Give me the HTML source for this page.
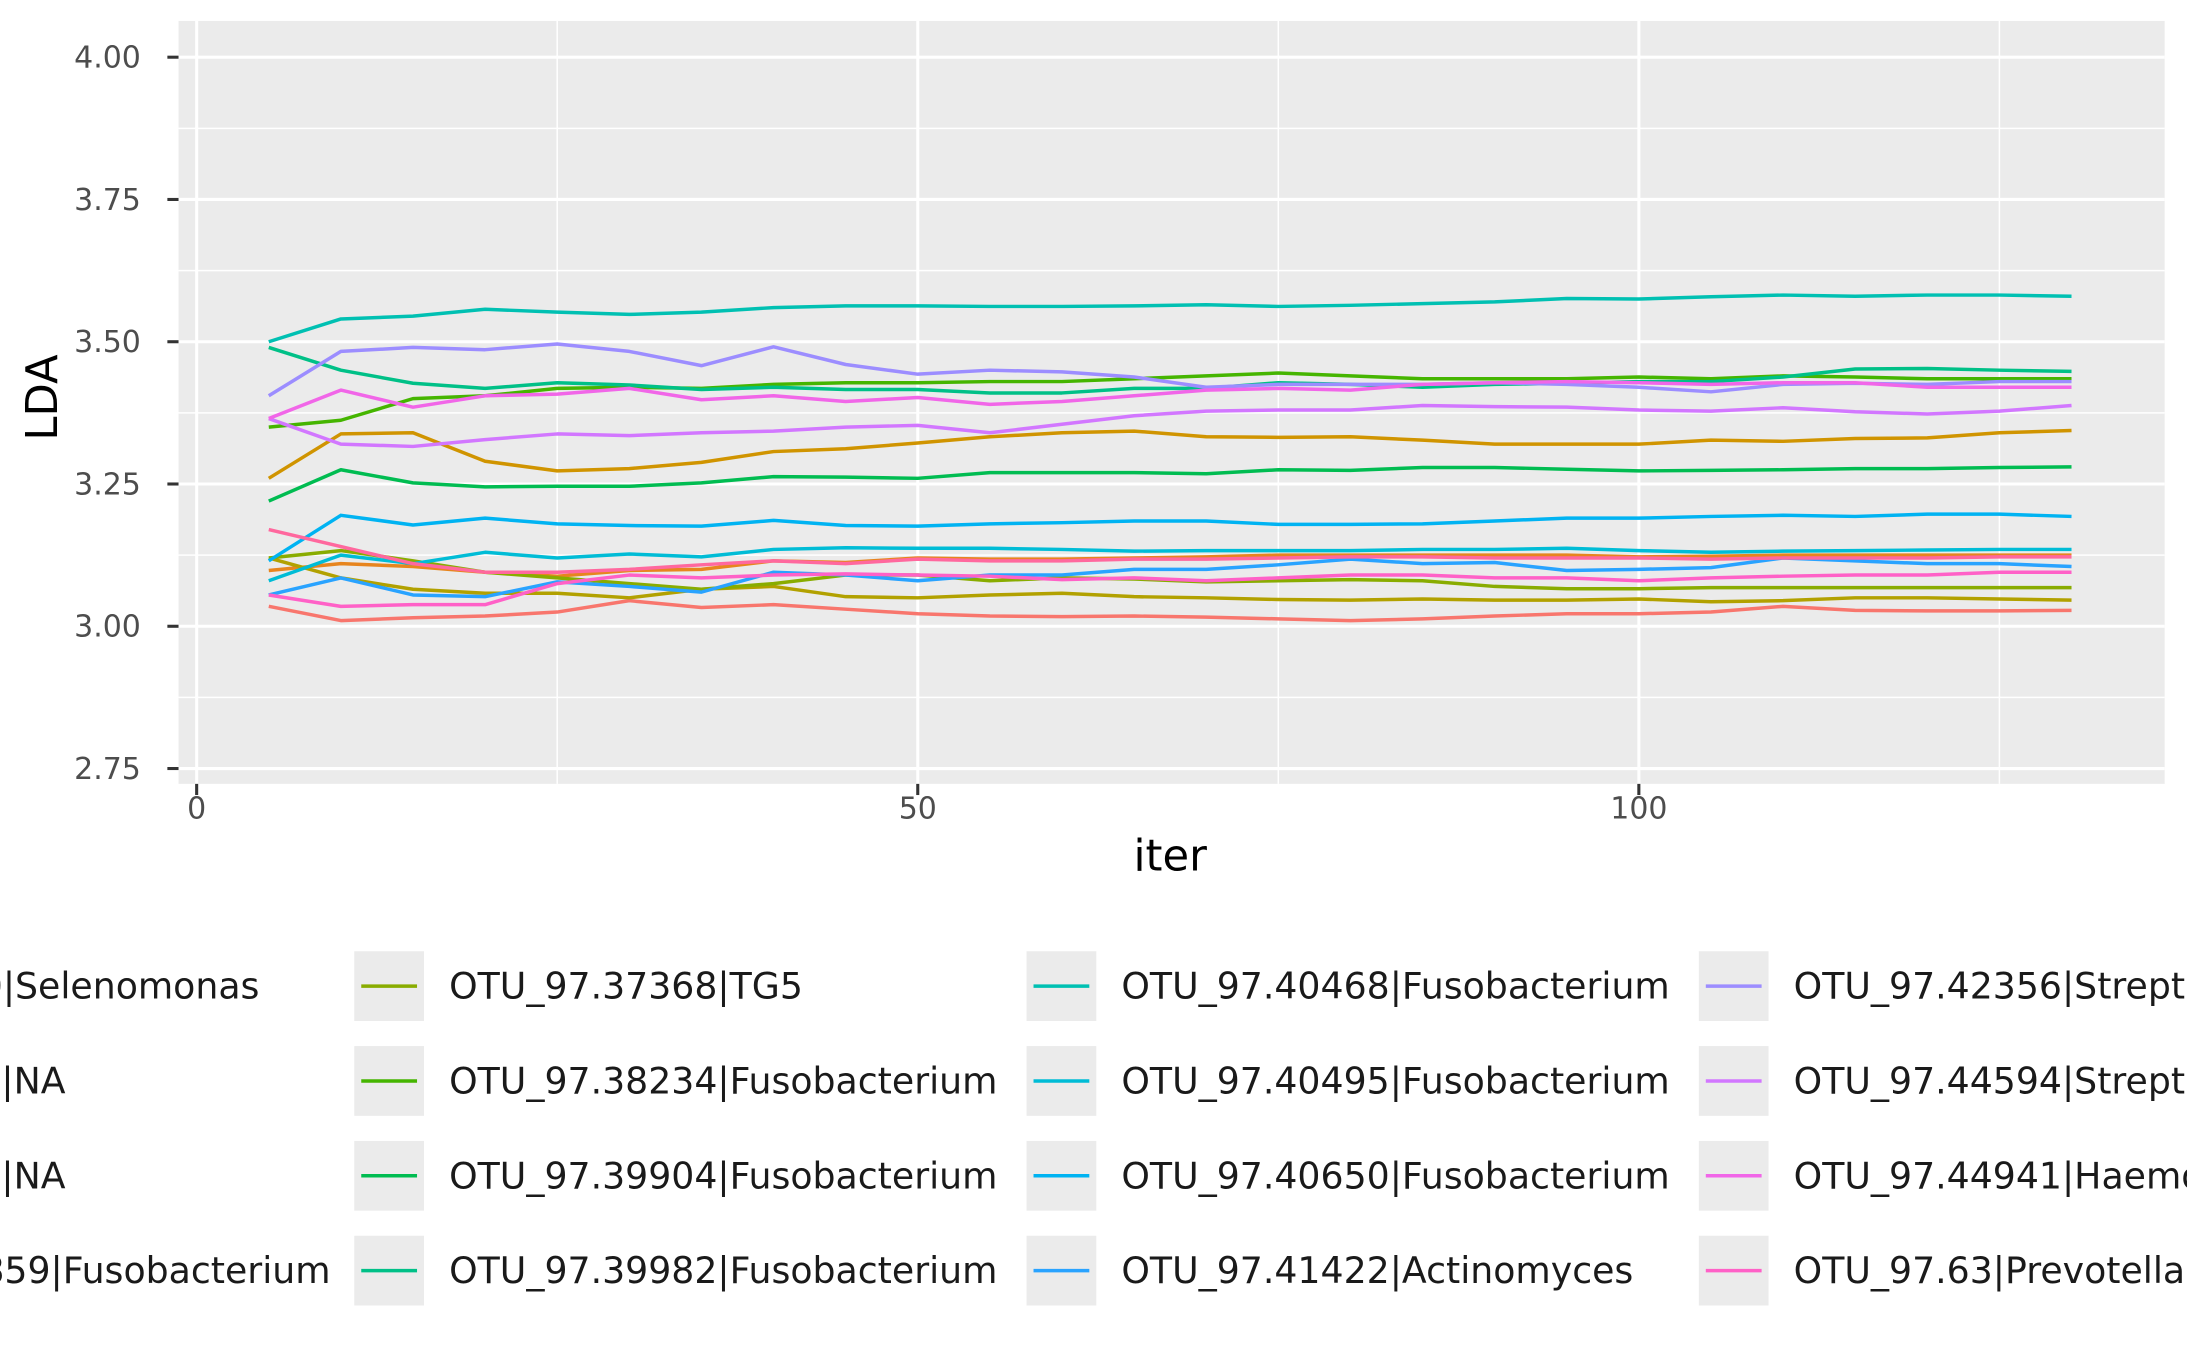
<!DOCTYPE html>
<html><head><meta charset="utf-8"><style>
html,body{margin:0;padding:0;background:#fff;}
svg{display:block;font-family:"DejaVu Sans","Liberation Sans",sans-serif;}
</style></head><body>
<svg id="chart" width="2187" height="1351" viewBox="0 0 1568 968.6" xmlns="http://www.w3.org/2000/svg">
<rect x="0" y="0" width="1568" height="969" fill="#fff"/>
<rect x="128" y="15" width="1424" height="547" fill="#ebebeb"/>
<g id="grid"></g>
<g id="axes"></g>
<g id="series"></g>
<text transform="translate(41,285) rotate(-90)" text-anchor="middle" font-size="31" fill="#000">LDA</text>
<text x="839" y="624" text-anchor="middle" font-size="31" fill="#000">iter</text>
<g id="legend"></g>
</svg>
<script>
const iters = [5,10,15,20,25,30,35,40,45,50,55,60,65,70,75,80,85,90,95,100,105,110,115,120,125,130];
const yTicks = [2.75,3.00,3.25,3.50,3.75,4.00];
const yTickLabels = ["2.75","3.00","3.25","3.50","3.75","4.00"];
const xTicks = [0,50,100];
const xTickLabels = ["0","50","100"];
const seriesNames = ["OTU_97.35160|Selenomonas","OTU_97.3601|NA","OTU_97.3635|NA","OTU_97.36859|Fusobacterium","OTU_97.37368|TG5","OTU_97.38234|Fusobacterium","OTU_97.39904|Fusobacterium","OTU_97.39982|Fusobacterium","OTU_97.40468|Fusobacterium","OTU_97.40495|Fusobacterium","OTU_97.40650|Fusobacterium","OTU_97.41422|Actinomyces","OTU_97.42356|Streptococcus","OTU_97.44594|Streptococcus","OTU_97.44941|Haemophilus","OTU_97.63|Prevotella","OTU_97.7|Other"];
const seriesColors = ["#F8766D","#E7851E","#D09400","#B2A100","#89AC00","#45B500","#00BC51","#00C087","#00C0B2","#00BCD6","#00B3F2","#29A3FF","#9C8DFF","#D277FF","#F166E8","#FF61C7","#FF689E"];
const s0 = [3.035,3.01,3.015,3.018,3.025,3.045,3.033,3.038,3.03,3.022,3.018,3.017,3.018,3.016,3.013,3.01,3.013,3.018,3.022,3.022,3.025,3.035,3.028,3.027,3.027,3.028];
const s1 = [3.098,3.11,3.105,3.095,3.088,3.098,3.1,3.115,3.112,3.12,3.118,3.118,3.12,3.122,3.125,3.125,3.125,3.125,3.125,3.122,3.123,3.125,3.125,3.125,3.125,3.125];
const s2 = [3.26,3.338,3.34,3.29,3.273,3.277,3.288,3.307,3.312,3.322,3.333,3.34,3.343,3.333,3.332,3.333,3.327,3.32,3.32,3.32,3.327,3.325,3.33,3.331,3.34,3.344];
const s3 = [3.12,3.085,3.065,3.058,3.058,3.05,3.065,3.07,3.052,3.05,3.055,3.058,3.052,3.05,3.047,3.046,3.048,3.046,3.046,3.048,3.043,3.045,3.05,3.05,3.048,3.046];
const s4 = [3.12,3.133,3.115,3.095,3.085,3.075,3.065,3.075,3.09,3.09,3.08,3.085,3.083,3.078,3.08,3.082,3.08,3.07,3.066,3.066,3.068,3.068,3.068,3.068,3.068,3.068];
const s5 = [3.35,3.362,3.4,3.405,3.418,3.42,3.418,3.425,3.428,3.428,3.43,3.43,3.435,3.44,3.445,3.44,3.435,3.435,3.435,3.438,3.435,3.44,3.438,3.435,3.435,3.435];
const s6 = [3.22,3.275,3.252,3.245,3.246,3.246,3.252,3.263,3.262,3.26,3.27,3.27,3.27,3.268,3.275,3.274,3.279,3.279,3.276,3.273,3.274,3.275,3.277,3.277,3.279,3.28];
const s7 = [3.49,3.45,3.427,3.418,3.428,3.424,3.416,3.42,3.416,3.416,3.41,3.41,3.418,3.418,3.428,3.425,3.42,3.425,3.427,3.43,3.43,3.438,3.452,3.453,3.45,3.448];
const s8 = [3.5,3.54,3.545,3.557,3.552,3.548,3.552,3.56,3.563,3.563,3.562,3.562,3.563,3.565,3.562,3.564,3.567,3.57,3.576,3.575,3.579,3.582,3.58,3.582,3.582,3.58];
const s9 = [3.08,3.125,3.11,3.13,3.12,3.127,3.122,3.135,3.138,3.137,3.137,3.135,3.132,3.133,3.133,3.133,3.135,3.135,3.137,3.133,3.13,3.132,3.133,3.134,3.135,3.135];
const s10 = [3.115,3.195,3.178,3.19,3.18,3.177,3.176,3.186,3.177,3.176,3.18,3.182,3.185,3.185,3.179,3.179,3.18,3.185,3.19,3.19,3.193,3.195,3.193,3.197,3.197,3.193];
const s11 = [3.055,3.085,3.055,3.052,3.078,3.07,3.06,3.095,3.09,3.08,3.09,3.09,3.1,3.1,3.108,3.118,3.11,3.112,3.098,3.1,3.103,3.12,3.115,3.11,3.11,3.105];
const s12 = [3.405,3.483,3.49,3.486,3.496,3.483,3.458,3.491,3.46,3.443,3.45,3.447,3.438,3.42,3.425,3.425,3.425,3.428,3.425,3.42,3.412,3.425,3.427,3.425,3.43,3.43];
const s13 = [3.365,3.32,3.316,3.328,3.338,3.335,3.34,3.343,3.35,3.353,3.34,3.355,3.37,3.378,3.38,3.38,3.388,3.386,3.385,3.38,3.378,3.384,3.377,3.373,3.378,3.388];
const s14 = [3.365,3.415,3.385,3.405,3.408,3.418,3.398,3.405,3.395,3.402,3.39,3.395,3.405,3.415,3.418,3.415,3.425,3.428,3.43,3.428,3.425,3.428,3.428,3.42,3.42,3.42];
const s15 = [3.055,3.035,3.038,3.038,3.075,3.09,3.085,3.09,3.092,3.09,3.088,3.082,3.085,3.08,3.085,3.09,3.09,3.085,3.085,3.08,3.085,3.088,3.09,3.09,3.095,3.095];
const s16 = [3.17,3.14,3.11,3.095,3.095,3.1,3.108,3.115,3.11,3.118,3.115,3.115,3.118,3.118,3.12,3.122,3.122,3.12,3.12,3.12,3.118,3.12,3.12,3.12,3.122,3.122];
const seriesValues = [s0,s1,s2,s3,s4,s5,s6,s7,s8,s9,s10,s11,s12,s13,s14,s15,s16];

const NS = "http://www.w3.org/2000/svg";
const PX0 = 128, PX1 = 1552, PY0 = 15, PY1 = 562;
function xScale(v){ return 141 + (v - 0) * (1175 - 141) / 100; }
function yScale(v){ return 449 - (v - 3.0) * 408; }
function mk(tag, attrs, parent){ const e = document.createElementNS(NS, tag); for (const k in attrs) e.setAttribute(k, attrs[k]); parent.appendChild(e); return e; }

const grid = document.getElementById('grid');
for (let i = 0; i < yTicks.length - 1; i++) {
  const m = (yTicks[i] + yTicks[i+1]) / 2;
  const l = mk('line', {x1:PX0, x2:PX1, y1:yScale(m), y2:yScale(m), stroke:'#fff', 'stroke-width':1.1}, grid);
  
  
}
for (let i = 0; i < xTicks.length; i++) {
  const m = xTicks[i] + 25;
  const l = mk('line', {x1:xScale(m), x2:xScale(m), y1:PY0, y2:PY1, stroke:'#fff', 'stroke-width':1.1}, grid);
  
  
}
const axes = document.getElementById('axes');
yTicks.forEach((t, i) => {
  const y = yScale(t);
  const g = mk('line', {x1:PX0, x2:PX1, y1:y, y2:y, stroke:'#fff', 'stroke-width':2.2}, grid);
  
  
  const tk = mk('line', {x1:120, x2:128, y1:y, y2:y, stroke:'#333', 'stroke-width':2.2}, axes);
  
  
  const tx = mk('text', {x:101, y:y + 7.5, 'text-anchor':'end', 'font-size':21.5, fill:'#4d4d4d'}, axes);
  tx.textContent = yTickLabels[i];
  
  
});
xTicks.forEach((t, i) => {
  const x = xScale(t);
  const g = mk('line', {x1:x, x2:x, y1:PY0, y2:PY1, stroke:'#fff', 'stroke-width':2.2}, grid);
  
  
  const tk = mk('line', {x1:x, x2:x, y1:562, y2:570, stroke:'#333', 'stroke-width':2.2}, axes);
  
  
  const tx = mk('text', {x:x, y:587, 'text-anchor':'middle', 'font-size':21.5, fill:'#4d4d4d'}, axes);
  tx.textContent = xTickLabels[i];
  
  
});

const sg = document.getElementById('series');
seriesValues.forEach((vals, si) => {
  const pts = vals.map((v, i) => xScale(iters[i]).toFixed(2) + ',' + yScale(v).toFixed(2)).join(' ');
  const pl = mk('polyline', {points:pts, fill:'none', stroke:seriesColors[si], 'stroke-width':2.5, 'stroke-linejoin':'round'}, sg);
  
  
});

const lg = document.getElementById('legend');
const rowY = [707, 775, 843, 911];
seriesNames.forEach((name, i) => {
  const col = Math.floor(i / 4), row = i % 4;
  const kx = -228 + col * 482, cy = rowY[row];
  const bx = mk('rect', {x:kx, y:cy - 25, width:50, height:50, fill:'#ebebeb'}, lg);
  
  
  const ln = mk('line', {x1:kx + 5, x2:kx + 45, y1:cy, y2:cy, stroke:seriesColors[i], 'stroke-width':2.5}, lg);
  
  
  let tx;
  if (col === 0) {
    const ends = [186, 47, 47, 237];
    tx = mk('text', {x:ends[row], y:cy + 9, 'text-anchor':'end', 'font-size':26, fill:'#1a1a1a'}, lg);
  } else {
    tx = mk('text', {x:kx + 68, y:cy + 9, 'font-size':26, fill:'#1a1a1a'}, lg);
  }
  tx.textContent = name;
  
  
});
</script>
</body></html>
